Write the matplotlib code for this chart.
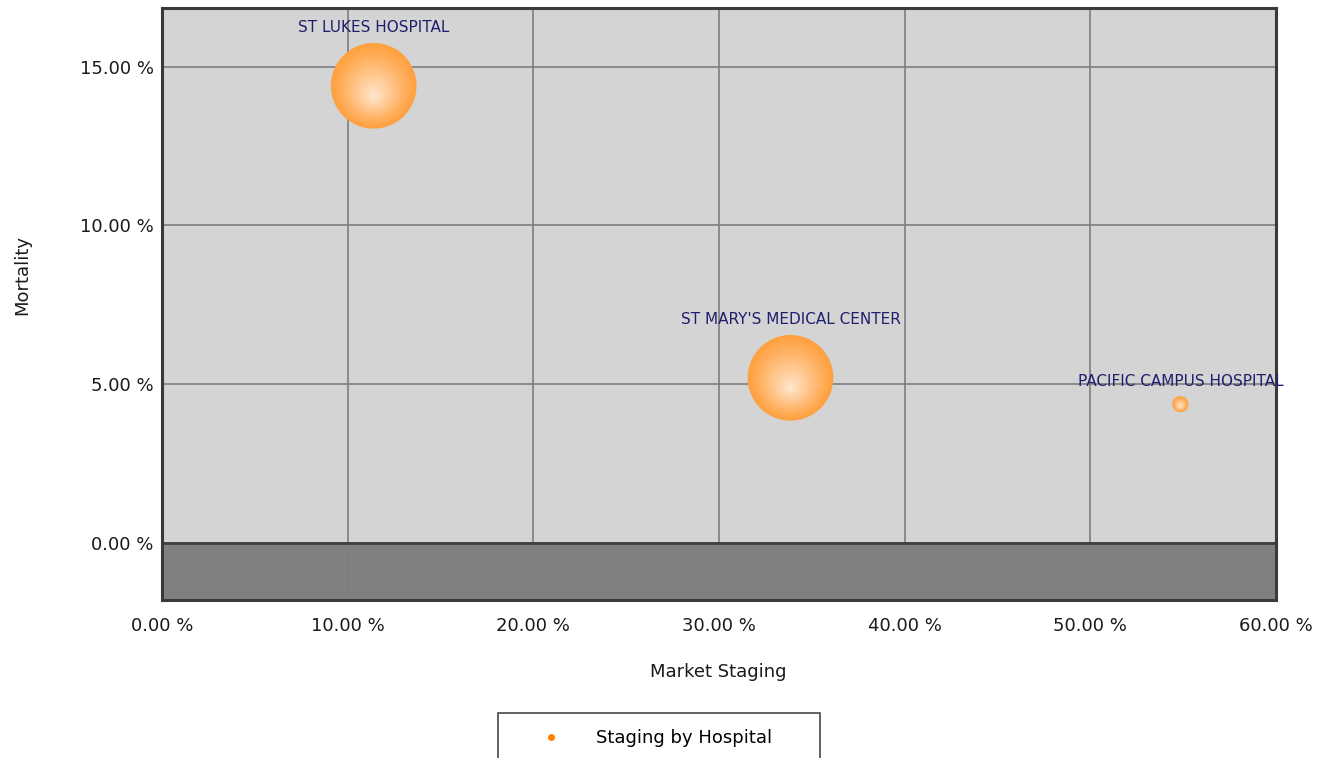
import numpy as np
import matplotlib
matplotlib.use('Agg')
import matplotlib.pyplot as plt
import matplotlib.transforms as mtransforms
from matplotlib.colors import to_rgb

# data
hospitals = ['ST LUKES HOSPITAL', "ST MARY'S MEDICAL CENTER",
             'PACIFIC CAMPUS HOSPITAL']
market_staging = [11.4, 33.85, 54.85]   # %
mortality = [14.4, 5.2, 4.37]           # %
volume = [100, 100, 3.5]                # relative bubble size
x_ticks = [0, 10, 20, 30, 40, 50, 60]
y_ticks = [0, 5, 10, 15]

plt.rcParams['font.family'] = ['DejaVu Sans']

fig = plt.figure(figsize=(13.25, 7.58), dpi=100)
ax = fig.add_axes([162 / 1325, 1 - 600 / 758, 1114 / 1325, 592 / 758])

ax.set_xlim(0, 60)
ax.set_ylim(-1.8, 16.85)
ax.set_facecolor('#d4d4d4')

# dark "floor" below zero
ax.axhspan(-1.8, 0, color='#808080', zorder=0.5)
ax.axhline(0, color='#3f3f3f', lw=2, zorder=1)

ax.set_xticks(x_ticks)
ax.set_yticks(y_ticks)
ax.set_xticklabels(['%.2f %%' % v for v in x_ticks])
ax.set_yticklabels(['%.2f %%' % v for v in y_ticks])
ax.tick_params(length=0, labelsize=13, colors='#1a1a1a')
ax.tick_params(axis='x', pad=12)
ax.tick_params(axis='y', pad=6)
ax.grid(True, color='#7e7e7e', lw=1.2, zorder=0.8)
ax.set_axisbelow(True)

for side in ['top', 'left', 'bottom', 'right']:
    ax.spines[side].set_color('#3a3a3a')
    ax.spines[side].set_linewidth(2.2)

# bubbles with a radial gradient (layered circles)
edge = np.array(to_rgb('#ffa03e'))
centre = np.array(to_rgb('#ffe8d2'))
scale = 38.0
n_layers = 30
for x, y, v in zip(market_staging, mortality, volume):
    s = v * scale
    diam_pt = np.sqrt(s)
    for k in range(n_layers):
        f = 1 - k / n_layers
        t = (1 - f) ** 1.1
        col = edge + (centre - edge) * t
        shift = -(1 - f) * (diam_pt / 2) * 0.25 / 72
        tr = ax.transData + mtransforms.ScaledTranslation(0, shift, fig.dpi_scale_trans)
        ax.scatter([x], [y], s=s * f ** 2, color=col, edgecolors='none',
                   transform=tr, zorder=3 + k * 0.01)

# labels above each bubble
for name, x, y, v in zip(hospitals, market_staging, mortality, volume):
    r_px = np.sqrt(v * scale) / 2 * fig.dpi / 72
    ax.annotate(name, (x, y), xytext=(0, r_px + 15), textcoords='offset pixels',
                ha='center', va='center', fontsize=11, color='#1f1f6e',
                zorder=5, annotation_clip=False)

fig.text(718 / 1325, 1 - 672 / 758, 'Market Staging', ha='center',
         va='center', fontsize=13, color='#1a1a1a')
fig.text(22 / 1325, 1 - 275 / 758, 'Mortality', ha='center', va='center',
         rotation=90, fontsize=13, color='#1a1a1a')

handle = plt.Line2D([], [], marker='o', ls='none', color='#ff8000',
                    markersize=4)
leg = fig.legend([handle], ['Staging by Hospital'], loc='upper left',
                 bbox_to_anchor=(498 / 1325, 1 - 713 / 758, 322 / 1325, 0),
                 mode='expand', fontsize=13, frameon=True, fancybox=False,
                 shadow=False, borderpad=0.9, handlelength=4.1,
                 handletextpad=0.45, borderaxespad=0)
leg.get_frame().set_edgecolor('#1a1a1a')
leg.get_frame().set_linewidth(1.2)

fig.savefig('out.png', dpi=100)
